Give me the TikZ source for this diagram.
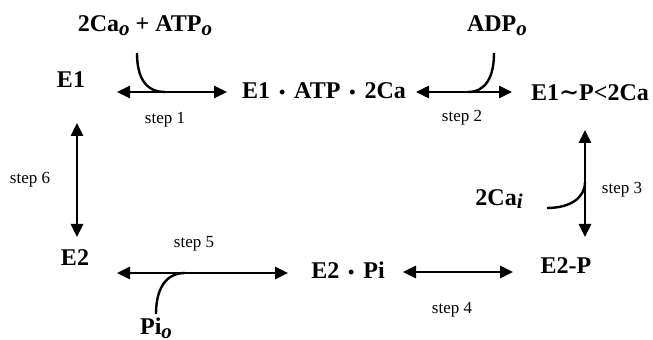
\documentclass[tikz,border=0pt]{standalone}
\usepackage{fontspec}
\setmainfont{Liberation Serif}
\newfontfamily\symfont{DejaVu Serif}
\usetikzlibrary{arrows.meta}

% lowered italic subscript, close to the size of the lowercase letters
\newcommand{\lowsub}[1]{\raisebox{-0.35ex}{\fontsize{10.5}{12}\selectfont\itshape #1}}
% small centred dot between the parts of a complex
\newcommand{\cdotsep}{\hspace{0.12em}\scalebox{0.75}{\textbullet}\hspace{0.12em}}

\tikzset{
  species/.style={font=\fontsize{12}{14}\selectfont\bfseries, inner sep=0pt},
  steplabel/.style={font=\fontsize{8.5}{10}\selectfont, inner sep=0pt},
  rxn/.style={line width=1.4pt,
    {Triangle[length=6.5pt,width=6pt]}-{Triangle[length=6.5pt,width=6pt]}},
  feed/.style={line width=1.2pt}
}

\begin{document}
\begin{tikzpicture}[x=0.5pt,y=-0.5pt]
\useasboundingbox (0,0) rectangle (653,340);

% enzyme states
\node[species] (E1)    at (71,80)   {E1};
\node[species] (E1ATP) at (324,91)  {E1 \cdotsep{} ATP \cdotsep{} 2Ca};
\node[species] (E1P)   at (590,93)  {E1{\symfont\bfseries ∼}P<2Ca};
\node[species] (E2P)   at (566,266) {E2-P};
\node[species] (E2Pi)  at (348,270) {E2 \cdotsep{} Pi};
\node[species] (E2)    at (75,258)  {E2};

% ligands entering or leaving
\node[species] (sub1) at (145,26)  {2Ca\lowsub{o} + ATP\lowsub{o}};
\node[species] (adp)  at (497,26)  {ADP\lowsub{o}};
\node[species] (cai)  at (499,199) {2Ca\lowsub{i}};
\node[species] (pio)  at (156,328) {Pi\lowsub{o}};

% step labels
\node[steplabel] (s1) at (165,120) {step 1};
\node[steplabel] (s2) at (462,118) {step 2};
\node[steplabel] (s3) at (622,190) {step 3};
\node[steplabel] (s4) at (452,310) {step 4};
\node[steplabel] (s5) at (194,244) {step 5};
\node[steplabel] (s6) at (30,180)  {step 6};

% arrow end points
\coordinate (a1l) at (117,92);  \coordinate (a1r) at (227,92);
\coordinate (a2l) at (416,92);  \coordinate (a2r) at (512,92);
\coordinate (a3t) at (585,130); \coordinate (a3b) at (585,237);
\coordinate (a4l) at (403,272); \coordinate (a4r) at (513,272);
\coordinate (a5l) at (117,273); \coordinate (a5r) at (288,273);
\coordinate (a6t) at (77,123);  \coordinate (a6b) at (77,237);

% reversible steps
\draw[rxn] (a1l) -- (a1r);
\draw[rxn] (a2l) -- (a2r);
\draw[rxn] (a3t) -- (a3b);
\draw[rxn] (a4l) -- (a4r);
\draw[rxn] (a5l) -- (a5r);
\draw[rxn] (a6t) -- (a6b);

% ligand branches
\coordinate (c1s) at (137,53);  \coordinate (c1e) at (165,92);
\coordinate (c2s) at (494,53);  \coordinate (c2e) at (468,92);
\coordinate (c3s) at (547,208); \coordinate (c3e) at (585,182);
\coordinate (c5s) at (156,314); \coordinate (c5e) at (185,273);
\draw[feed] (c1s) .. controls (137,78) and (146,92) .. (c1e);
\draw[feed] (c2s) .. controls (494,78) and (485,92) .. (c2e);
\draw[feed] (c3s) .. controls (570,208) and (585,198) .. (c3e);
\draw[feed] (c5s) .. controls (156,290) and (165,273) .. (c5e);
\end{tikzpicture}
\end{document}
